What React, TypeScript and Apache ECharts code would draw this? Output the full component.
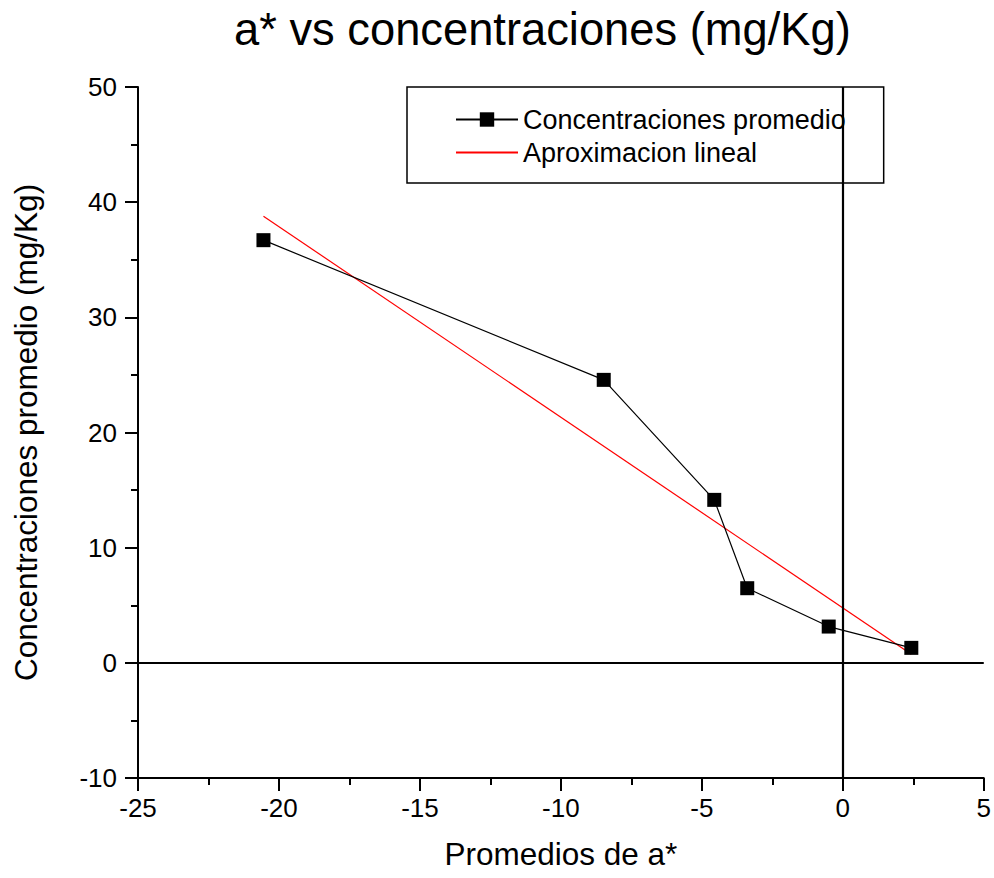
import React, { useEffect, useRef } from "react";
import * as echarts from "echarts";

const seriesNames = ["Concentraciones promedio", "Aproximacion lineal"];
const aValues = [-20.55, -8.48, -4.56, -3.39, -0.5, 2.43];
const concValues = [36.7, 24.57, 14.15, 6.48, 3.15, 1.3];
const fitX = [-20.55, 2.43];
const fitY = [38.78, 0.75];
const titleText = "a* vs concentraciones (mg/Kg)";
const xName = "Promedios de a*";
const yName = "Concentraciones promedio (mg/Kg)";

export default function App() {
  const ref = useRef<HTMLDivElement>(null);
  useEffect(() => {
    if (!ref.current) return;
    const chart = echarts.init(ref.current, null, { renderer: "svg" });
    const font = "'Liberation Sans', Arial, sans-serif";
    const axisCommon = {
      axisLine: { show: true, onZero: false, lineStyle: { color: "#000", width: 2 } },
      axisTick: { show: true, inside: false, length: 13, lineStyle: { color: "#000", width: 2 } },
      minorTick: { show: true, splitNumber: 2, length: 7, lineStyle: { color: "#000", width: 2 } },
      splitLine: { show: false },
      axisLabel: { color: "#000", fontSize: 26, fontFamily: font },
      nameTextStyle: { color: "#000", fontSize: 31.5, fontFamily: font },
      nameLocation: "middle" as const,
    };
    chart.setOption({
      animation: false,
      backgroundColor: "#fff",
      title: {
        text: titleText,
        left: 229,
        top: 2,
        textStyle: { color: "#000", fontSize: 45.3, fontWeight: "normal", fontFamily: font },
      },
      legend: {
        orient: "vertical",
        left: 407,
        top: 87,
        padding: [19, 38, 17, 48],
        itemGap: 6,
        itemWidth: 62,
        itemHeight: 18,
        borderColor: "#000",
        borderWidth: 1.5,
        backgroundColor: "#fff",
        textStyle: { color: "#000", fontSize: 27, fontFamily: font },
        data: [
          { name: seriesNames[0] },
          { name: seriesNames[1], itemStyle: { opacity: 0 } },
        ],
      },
      grid: { left: 138, right: 6, top: 87, bottom: 100, containLabel: false },
      xAxis: {
        type: "value",
        min: -25,
        max: 5,
        interval: 5,
        name: xName,
        nameGap: 60,
        ...axisCommon,
        axisLabel: { ...axisCommon.axisLabel, margin: 17 },
      },
      yAxis: {
        type: "value",
        min: -10,
        max: 50,
        interval: 10,
        name: yName,
        nameGap: 96,
        ...axisCommon,
        axisLabel: { ...axisCommon.axisLabel, margin: 21 },
      },
      series: [
        {
          name: seriesNames[0],
          type: "line",
          data: aValues.map((x, i) => [x, concValues[i]]),
          symbol: "rect",
          symbolSize: 14,
          itemStyle: { color: "#000" },
          lineStyle: { color: "#000", width: 1.2 },
          z: 5,
          markLine: {
            silent: true,
            symbol: "none",
            label: { show: false },
            lineStyle: { color: "#000", width: 2.2, type: "solid" },
            emphasis: { disabled: true },
            data: [{ xAxis: 0 }, { yAxis: 0 }],
          },
        },
        {
          name: seriesNames[1],
          type: "line",
          data: fitX.map((x, i) => [x, fitY[i]]),
          symbol: "none",
          itemStyle: { color: "#ff0000" },
          lineStyle: { color: "#ff0000", width: 1.2 },
          z: 4,
        },
      ],
    });
    return () => chart.dispose();
  }, []);
  return <div ref={ref} style={{ width: 994, height: 878, position: "absolute", left: 0, top: 0 }} />;
}
